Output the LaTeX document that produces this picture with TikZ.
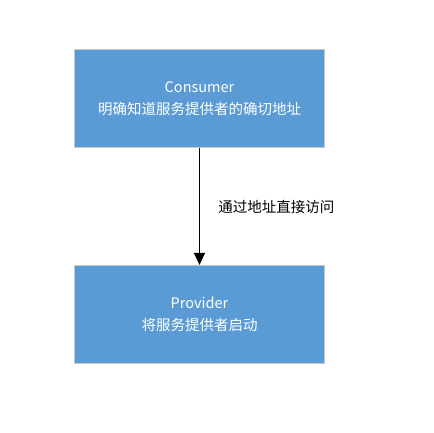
\documentclass[tikz,border=0pt]{standalone}
\usepackage{fontspec}
\setmainfont{Noto Sans CJK SC}
\usetikzlibrary{arrows.meta, positioning}
\definecolor{boxblue}{HTML}{5B9BD5}
\definecolor{boxedge}{HTML}{C8C8C8}

\begin{document}
\begin{tikzpicture}[x=1bp, y=-1bp,
	role/.style={draw=boxedge, fill=boxblue, line width=1.2bp,
		minimum width=250bp, minimum height=98bp, align=center,
		font=\fontsize{14.5bp}{22bp}\selectfont, text=white},
	call/.style={-{Triangle[length=12bp, width=11bp]}, line width=1.3bp}]
	\useasboundingbox (0,0) rectangle (434,432);
	\node[role] (consumer) at (199.5,98.5) {Consumer\\明确知道服务提供者的确切地址};
	\node[role] (provider) at (199.5,314.5) {Provider\\将服务提供者启动};
	\draw[call] (consumer) -- node[right=15bp, font=\fontsize{14.5bp}{16bp}\selectfont] {通过地址直接访问} (provider);
\end{tikzpicture}
\end{document}
